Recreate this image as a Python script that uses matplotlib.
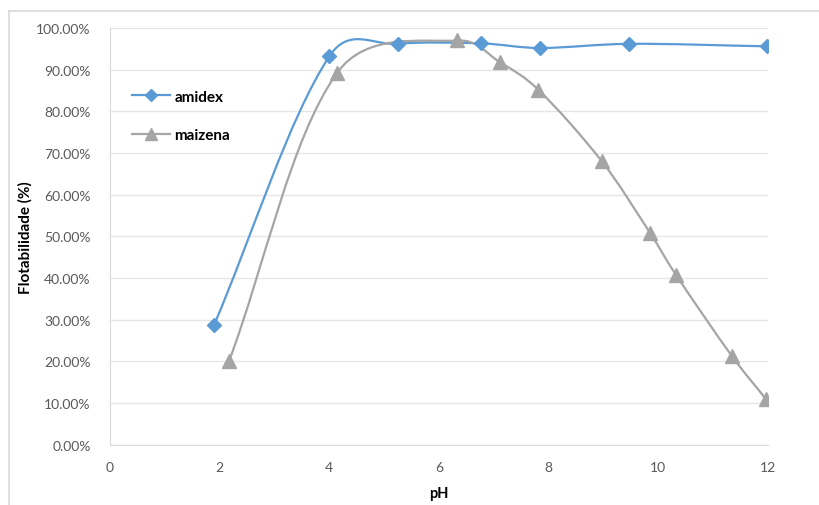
import matplotlib
matplotlib.use("Agg")
import matplotlib.pyplot as plt
import numpy as np
from matplotlib.path import Path
from matplotlib.patches import PathPatch
from matplotlib.lines import Line2D
from matplotlib.ticker import PercentFormatter

# data
ph_amidex = [1.90, 4.00, 5.25, 6.77, 7.84, 9.47, 11.98]
flot_amidex = [28.8, 93.2, 96.2, 96.3, 95.2, 96.2, 95.6]
ph_maizena = [2.17, 4.14, 6.33, 7.11, 7.81, 8.97, 9.85, 10.32, 11.34, 11.96]
flot_maizena = [20.0, 89.2, 97.0, 91.8, 85.2, 68.0, 50.8, 40.8, 21.3, 11.0]

BLUE = "#5B9BD5"
GRAY = "#A5A5A5"
TXT = "#595959"

plt.rcParams.update({"font.family": ["Lato", "DejaVu Sans"], "font.size": 10})


def smooth_path(ax, x, y):
    # Excel-style smoothed line: Bezier segments, tangents weighted by the
    # square root of the on-screen chord lengths
    p = np.column_stack([x, y]).astype(float)
    s = ax.transData.transform(p)
    n = len(p)
    d = np.sqrt(np.hypot(*np.diff(s, axis=0).T))
    verts = [p[0]]
    codes = [Path.MOVETO]
    for i in range(n - 1):
        if i > 0:
            t = (p[i + 1] - p[i - 1]) * d[i] / (d[i - 1] + d[i]) / 2
        else:
            t = (p[i + 1] - p[i]) / 2
        if i + 2 < n:
            u = (p[i + 2] - p[i]) * d[i] / (d[i] + d[i + 1]) / 2
        else:
            u = (p[i + 1] - p[i]) / 2
        verts += [p[i] + t * 2 / 3, p[i + 1] - u * 2 / 3, p[i + 1]]
        codes += [Path.CURVE4] * 3
    return Path(verts, codes)


fig = plt.figure(figsize=(8.19, 5.06), dpi=100)
# chart frame: only top and left edges show in the crop
fig.add_artist(Line2D([0.011, 1.0], [0.976, 0.976], color="#D9D9D9", lw=1.2))
fig.add_artist(Line2D([0.011, 0.011], [0.0, 0.976], color="#D9D9D9", lw=1.2))

ax = fig.add_axes([0.1343, 0.1192, 0.8034, 0.8235])
ax.set_xlim(0, 12)
ax.set_ylim(0, 100)

for x, y, col, mk, ms in [
    (ph_amidex, flot_amidex, BLUE, "D", 7),
    (ph_maizena, flot_maizena, GRAY, "^", 10),
]:
    ax.add_patch(PathPatch(smooth_path(ax, x, y), fill=False, edgecolor=col,
                           lw=1.6, zorder=2))
    ax.plot(x, y, ls="none", marker=mk, ms=ms, color=col, zorder=3)

ax.set_xticks(range(0, 13, 2))
ax.set_yticks(range(0, 101, 10))
ax.yaxis.set_major_formatter(PercentFormatter(decimals=2))
ax.tick_params(length=0, colors=TXT, labelsize=10)
ax.tick_params(axis="y", pad=14)
ax.tick_params(axis="x", pad=12)
ax.grid(axis="y", color="#E6E6E6", lw=1)
ax.set_axisbelow(True)
for s in ("top", "right"):
    ax.spines[s].set_visible(False)
for s in ("left", "bottom"):
    ax.spines[s].set_color("#D9D9D9")

ax.set_xlabel("pH", fontweight="bold", fontsize=10.5, labelpad=9)
ax.set_ylabel("Flotabilidade (%)", fontweight="bold", fontsize=11)
ax.yaxis.set_label_coords(-0.117, 0.5)

handles = [Line2D([], [], color=BLUE, marker="D", ms=6, lw=1.6),
           Line2D([], [], color=GRAY, marker="^", ms=8, lw=1.6)]
ax.legend(handles, ["amidex", "maizena"], loc="upper left",
          bbox_to_anchor=(0.012, 0.885), frameon=False, labelspacing=1.6,
          handlelength=2.5, handletextpad=0.3, prop={"weight": "bold", "size": 11})

fig.savefig("out.png", dpi=100)
